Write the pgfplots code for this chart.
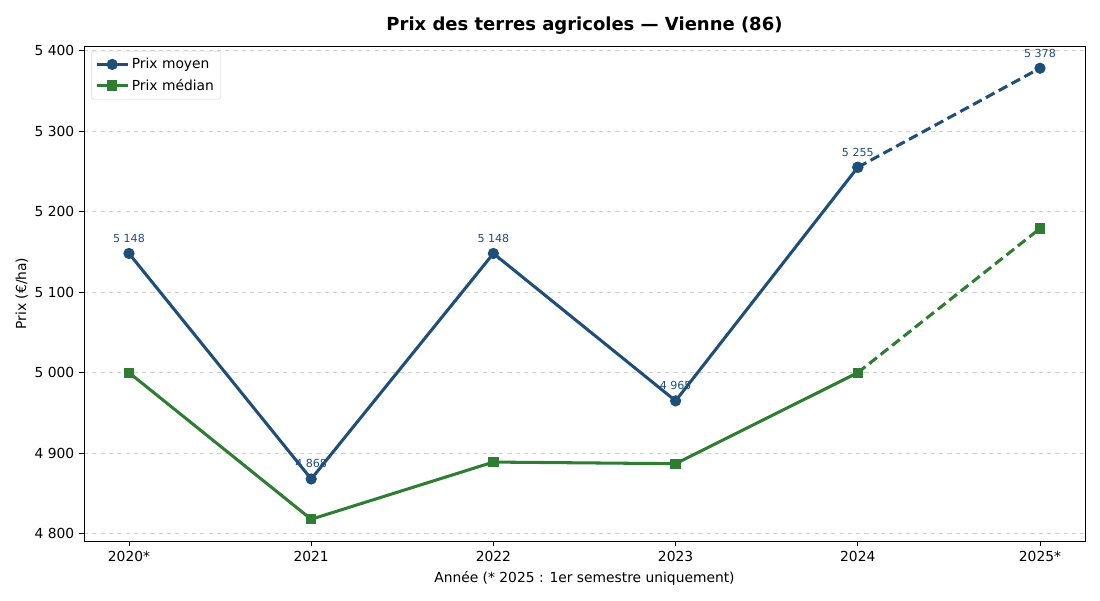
\documentclass[border=0pt]{standalone}
\usepackage{pgfplots}
\pgfplotsset{compat=1.18}
\usepackage{fontspec}
\setmainfont{DejaVu Sans}
\definecolor{bleu}{HTML}{1F4E79}
\definecolor{vert}{HTML}{2E7D32}
\begin{document}
\begin{tikzpicture}[x=1bp,y=1bp]
\useasboundingbox (0,0) rectangle (792,432);
\begin{axis}[
  at={(60.48bp,42.48bp)}, anchor=south west,
  scale only axis, width=720.7bp, height=356.4bp,
  xmin=-0.247, xmax=5.247,
  ymin=4791, ymax=5405.6,
  xtick={0,...,5},
  xticklabels={2020*,2021,2022,2023,2024,2025*},
  ytick={4800,4900,5000,5100,5200,5300,5400},
  yticklabels={4 800,4 900,5 000,5 100,5 200,5 300,5 400},
  xtick pos=lower, ytick pos=left,
  ticklabel style={font=\fontsize{10}{12}\selectfont},
  tick align=outside, tick style={black, line width=0.6pt},
  major tick length=3.5bp,
  ymajorgrids, grid style={dashed, gray!35, line width=0.6pt},
  axis line style={line width=0.6pt},
  xlabel={Année (* 2025 : 1er semestre uniquement)},
  ylabel={Prix (€/ha)},
  label style={font=\fontsize{10}{12}\selectfont},
  xlabel style={yshift=-0.5pt},
  ylabel style={yshift=-2pt},
  title={\textbf{Prix des terres agricoles — Vienne (86)}},
  title style={font=\fontsize{13}{15}\selectfont, yshift=-1pt},
  legend cell align=left,
  legend style={font=\fontsize{10}{12}\selectfont, draw=gray!30, rounded corners=2pt, inner sep=3pt, row sep=2pt, at={(0.007,0.99)}, anchor=north west},
  legend image code/.code={\draw[#1] (0bp,0bp) -- (22bp,0bp); \draw[#1, mark repeat=2, mark phase=2] plot coordinates {(0bp,0bp) (11bp,0bp) (22bp,0bp)};},
]
\addplot[bleu, line width=2.2pt, mark=*, mark size=2.9pt] coordinates {
  (0,5148) (1,4868) (2,5148) (3,4965) (4,5255)
};
\addlegendentry{Prix moyen}
\addplot[vert, line width=2.2pt, mark=square*, mark size=2.6pt] coordinates {
  (0,5000) (1,4818) (2,4889) (3,4887) (4,5000)
};
\addlegendentry{Prix médian}
\addplot[bleu, line width=2.2pt, dash pattern=on 7bp off 3.5bp, mark=*, mark size=2.9pt, mark options={solid}, forget plot] coordinates {
  (4,5255) (5,5378)
};
\addplot[vert, line width=2.2pt, dash pattern=on 7bp off 3.5bp, mark=square*, mark size=2.6pt, mark options={solid}, forget plot] coordinates {
  (4,5000) (5,5179)
};
\foreach \x/\y/\t in {0/5148/5 148, 1/4868/4 868, 2/5148/5 148, 3/4965/4 965, 4/5255/5 255, 5/5378/5 378} {
  \edef\tmp{\noexpand\node[text=bleu, font=\noexpand\fontsize{8}{9}\noexpand\selectfont, anchor=base] at (axis cs:\x,\y) [yshift=8bp] {\t};}
  \tmp
}
\end{axis}
\end{tikzpicture}
\end{document}
